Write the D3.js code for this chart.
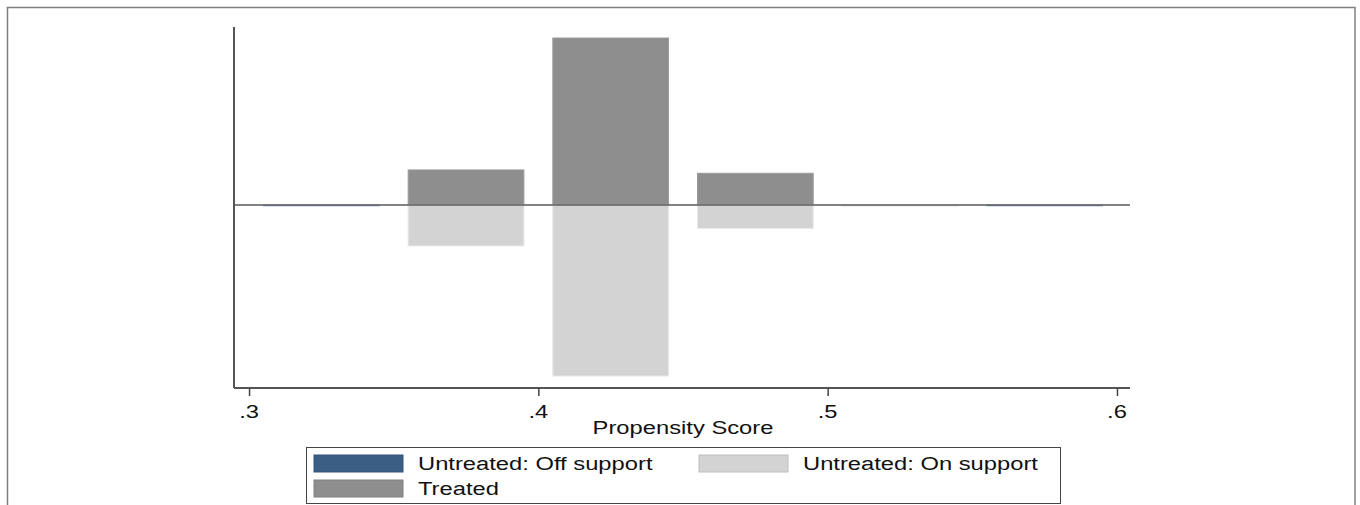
<!DOCTYPE html>
<html>
<head>
<meta charset="utf-8">
<script src="https://cdn.jsdelivr.net/npm/d3@7"></script>
<style>
  body { margin: 0; background: #fff; }
  svg { display: block; font-family: "Liberation Sans", Arial, sans-serif; }
</style>
</head>
<body>
<div id="chart"></div>
<script>
// bin centres of the propensity score histogram
const binCenters = [0.325, 0.375, 0.425, 0.475, 0.525, 0.575];
const binWidth = 0.04;
// heights (density units) — treated above zero, untreated below
const treated = [0, 0.21, 1.0, 0.19, 0, 0];
const untreatedOn = [0, 0.245, 1.024, 0.14, 0.006, 0];
const untreatedOff = [0.005, 0, 0, 0, 0, 0.005];
const xTicks = [0.3, 0.4, 0.5, 0.6];
const legendItems = ['Untreated: Off support', 'Untreated: On support', 'Treated'];
const colors = ['#3b5e85', '#d3d3d3', '#8e8e8e'];

const width = 1360, height = 505;
const plot = { left: 234, right: 1130, top: 27, bottom: 388 };
const stretch = 1.32; // text in the source image is stretched horizontally

const svg = d3.select('#chart').append('svg')
  .attr('width', width).attr('height', height);

// outer frame
svg.append('rect').attr('x', 7.5).attr('y', 7.5)
  .attr('width', 1347.5).attr('height', 510)
  .attr('fill', 'none').attr('stroke', '#808080').attr('stroke-width', 1.5);

const x = d3.scaleLinear().domain([0.2948, 0.6045]).range([plot.left, plot.right]);
const y = d3.scaleLinear().domain([-1.096, 1.066]).range([plot.bottom, plot.top]);

const bw = x(binWidth) - x(0);

function drawBars(vals, color, below) {
  svg.append('g').selectAll('rect')
    .data(binCenters.map((c, i) => ({ c, v: vals[i] })).filter(d => d.v > 0))
    .join('rect')
    .attr('x', d => x(d.c - binWidth / 2))
    .attr('width', bw)
    .attr('y', d => below ? y(0) : y(d.v))
    .attr('height', d => Math.abs(y(d.v) - y(0)))
    .attr('fill', color)
    .attr('stroke', d3.color(color).brighter(0.25))
    .attr('stroke-width', 1);
}

drawBars(treated, colors[2], false);
drawBars(untreatedOn, colors[1], true);
drawBars(untreatedOff, '#7f9cbd', true);

// zero line
svg.append('line')
  .attr('x1', plot.left).attr('x2', plot.right)
  .attr('y1', y(0)).attr('y2', y(0))
  .attr('stroke', '#5a5a5a').attr('stroke-width', 1.5);

// y axis line (no ticks)
svg.append('line')
  .attr('x1', plot.left).attr('x2', plot.left)
  .attr('y1', plot.top).attr('y2', plot.bottom)
  .attr('stroke', '#555').attr('stroke-width', 2);

// stretched text helper
function label(g, tx, ty, str, size, anchor) {
  return g.append('text')
    .attr('transform', `translate(${tx},${ty}) scale(${stretch},1)`)
    .attr('text-anchor', anchor || 'start')
    .attr('font-size', size).attr('fill', '#111')
    .text(str);
}

// x axis
const xAxis = svg.append('g').attr('transform', `translate(0,${plot.bottom})`)
  .call(d3.axisBottom(x).tickValues(xTicks).tickSize(8).tickFormat(''));
xAxis.select('.domain').attr('stroke', '#555').attr('stroke-width', 2)
  .attr('d', `M${plot.left},0H${plot.right}`);
xAxis.selectAll('.tick line').attr('stroke', '#444').attr('stroke-width', 1.5);
xTicks.forEach(t => {
  label(svg, x(t), 418, d3.format('.1f')(t).replace(/^0/, ''), 18, 'middle');
});

label(svg, (x(0.3) + x(0.6)) / 2, 434, 'Propensity Score', 18, 'middle');

// legend
const lg = svg.append('g');
lg.append('rect').attr('x', 306.5).attr('y', 447.5)
  .attr('width', 754).attr('height', 56)
  .attr('fill', '#fff').attr('stroke', '#444').attr('stroke-width', 1);
const legPos = [[314, 455], [699, 455], [314, 480]];
legendItems.forEach((name, i) => {
  const [lx, ly] = legPos[i];
  lg.append('rect').attr('x', lx).attr('y', ly).attr('width', 89).attr('height', 17)
    .attr('fill', colors[i]).attr('stroke', d3.color(colors[i]).darker(0.3)).attr('stroke-width', 1);
  label(lg, lx + 104, ly + 15, name, 18);
});
</script>
</body>
</html>
